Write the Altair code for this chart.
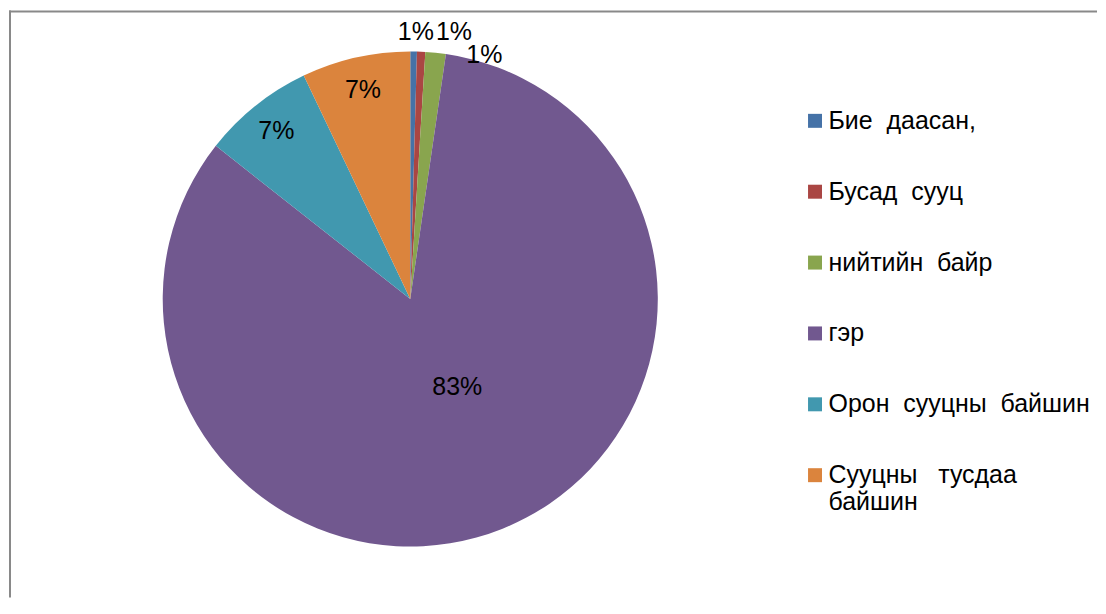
import math
import altair as alt
import pandas as pd

categories = ["Бие даасан,", "Бусад сууц", "нийтийн байр", "гэр",
              "Орон сууцны байшин", "Сууцны  тусдаа байшин"]
shares = [0.43, 0.54, 1.33, 83.32, 7.30, 7.08]
labels = ["1%", "1%", "1%", "83%", "7%", "7%"]
colors = ["#4572A7", "#AA4643", "#89A54E", "#71588F", "#4198AF", "#DB843D"]

df = pd.DataFrame({"cat": categories, "share": shares, "label": labels,
                   "idx": list(range(len(categories)))})
total = sum(shares)
FONT = "Liberation Sans"

base = alt.Chart(df).transform_window(
    cum="sum(share)", sort=[alt.SortField("idx")]
).transform_calculate(
    start="datum.cum - datum.share", mid="datum.cum - datum.share / 2"
)
tscale = alt.Scale(domain=[0, total], range=[0, 2 * math.pi])

label_expr = (
    "indexof(datum.label, 'тусдаа') >= 0 ? "
    "['Сууцны\u00a0\u00a0\u00a0тусдаа', 'байшин'] : "
    "replace(datum.label, regexp(' ', 'g'), '\u00a0\u00a0')"
)

arcs = base.mark_arc(radius=248).encode(
    theta=alt.Theta("start:Q", scale=tscale),
    theta2="cum:Q",
    color=alt.Color(
        "cat:N",
        sort=categories,
        scale=alt.Scale(domain=categories, range=colors),
        legend=alt.Legend(
            title=None, orient="none", legendX=795, legendY=100,
            symbolType="square", symbolSize=196, symbolStrokeWidth=0,
            labelFont=FONT, labelFontSize=25, labelColor="#000000",
            labelOffset=1, rowPadding=45, labelLimit=500, padding=0,
            labelExpr=label_expr,
        ),
    ),
)


def label_layer(cats, radius, dx=0, dy=0):
    return base.transform_filter(
        alt.FieldOneOfPredicate(field="cat", oneOf=cats)
    ).mark_text(radius=radius, dx=dx, dy=dy, font=FONT, fontSize=25,
                color="#000000", align="center", baseline="middle").encode(
        theta=alt.Theta("mid:Q", scale=tscale),
        text="label:N",
    )


lab_inner = label_layer([categories[4], categories[5]], 215)
lab_big = label_layer([categories[3]], 100, dx=10, dy=-5)
lab_b = label_layer([categories[0]], 268, dx=2)
lab_r = label_layer([categories[1]], 268, dx=32)
lab_g = label_layer([categories[2]], 256, dx=48, dy=10)

one = pd.DataFrame({"a": [0]})
frame_top = alt.Chart(one).mark_rule(color="#898989", strokeWidth=2).encode(
    x=alt.value(0), x2=alt.value(1090), y=alt.value(3))
frame_left = alt.Chart(one).mark_rule(color="#898989", strokeWidth=2).encode(
    x=alt.value(1), y=alt.value(2), y2=alt.value(590))

chart = alt.layer(
    frame_top, frame_left, arcs, lab_inner, lab_big, lab_b, lab_r, lab_g
).properties(width=804, height=582, padding=0).configure_view(stroke=None)

chart.save("out.html", embed_options={"renderer": "svg", "actions": False})
